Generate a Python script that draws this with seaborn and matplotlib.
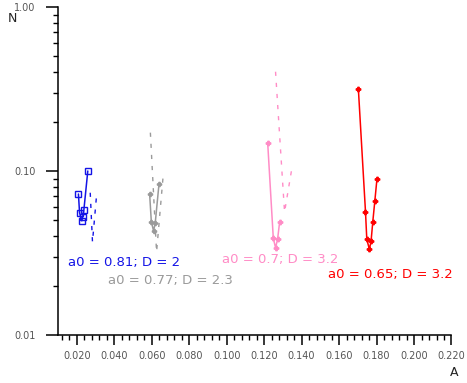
import matplotlib
matplotlib.use("Agg")
import matplotlib.pyplot as plt
import matplotlib.ticker as mticker
import seaborn as sns
import pandas as pd

# solid curves (marked points)
blue_x = [0.0209, 0.0215, 0.0227, 0.0232, 0.0238, 0.0259]
blue_y = [0.0724, 0.0557, 0.0497, 0.0526, 0.0578, 0.100]
gray_x = [0.0589, 0.0598, 0.0610, 0.0619, 0.0639]
gray_y = [0.0724, 0.0491, 0.0431, 0.0484, 0.0833]
pink_x = [0.1219, 0.1249, 0.1261, 0.1272, 0.1283]
pink_y = [0.1488, 0.0389, 0.0340, 0.0385, 0.0491]
red_x = [0.1703, 0.1741, 0.1748, 0.1762, 0.1771, 0.1780, 0.1791, 0.1802]
red_y = [0.316, 0.0565, 0.0383, 0.0333, 0.0376, 0.0491, 0.0659, 0.0890]

# dashed curves
blue_dx = [0.0272, 0.0284, 0.0307]
blue_dy = [0.0737, 0.0369, 0.0737]
gray_dx = [0.0593, 0.0626, 0.0660]
gray_dy = [0.1713, 0.0321, 0.0902]
pink_dx = [0.1261, 0.1309, 0.1350]
pink_dy = [0.403, 0.0562, 0.107]

labels = ["a0 = 0.81; D = 2", "a0 = 0.77; D = 2.3", "a0 = 0.7; D = 3.2", "a0 = 0.65; D = 3.2"]
label_x = [0.0156, 0.0365, 0.0975, 0.1541]
label_y = [0.0278, 0.0216, 0.0290, 0.0235]
colors = ["#1414e6", "#9a9a9a", "#ff8cc6", "#ff0000"]

x_ticks = [0.02, 0.04, 0.06, 0.08, 0.10, 0.12, 0.14, 0.16, 0.18, 0.20, 0.22]

sns.set_style("ticks")
fig = plt.figure(figsize=(4.67, 3.83), dpi=100)
ax = fig.add_axes([0.1242, 0.1253, 0.9668 - 0.1242, 0.9817 - 0.1253])

solid = [(blue_x, blue_y, "s", 4.0, "none"), (gray_x, gray_y, "P", 3.0, None),
         (pink_x, pink_y, "P", 3.2, None), (red_x, red_y, "P", 3.2, None)]
for i, (xs, ys, mk, ms, mfc) in enumerate(solid):
    df = pd.DataFrame({"A": xs, "N": ys})
    kw = dict(marker=mk, markersize=ms, markeredgewidth=1.0, markeredgecolor=colors[i])
    kw["markerfacecolor"] = mfc if mfc is not None else colors[i]
    sns.lineplot(data=df, x="A", y="N", sort=False, estimator=None, color=colors[i],
                 linewidth=1.1, ax=ax, **kw)

dashed = [(blue_dx, blue_dy), (gray_dx, gray_dy), (pink_dx, pink_dy)]
for i, (xs, ys) in enumerate(dashed):
    df = pd.DataFrame({"A": xs, "N": ys})
    sns.lineplot(data=df, x="A", y="N", sort=False, estimator=None, color=colors[i],
                 linewidth=1.0, linestyle=(0, (3, 5)), ax=ax)

for i, t in enumerate(labels):
    ax.text(label_x[i], label_y[i], t, color=colors[i], fontsize=9.5, va="center", ha="left")

ax.set_yscale("log")
ax.set_xlim(0.01, 0.22)
ax.set_ylim(0.01, 1.0)
ax.set_xticks(x_ticks)
ax.xaxis.set_major_formatter(mticker.FormatStrFormatter("%.3f"))
ax.xaxis.set_minor_locator(mticker.MultipleLocator(0.004))
ax.yaxis.set_major_locator(mticker.LogLocator(base=10, numticks=5))
ax.yaxis.set_minor_locator(mticker.LogLocator(base=10, subs=range(2, 10), numticks=20))
ax.yaxis.set_minor_formatter(mticker.NullFormatter())
ax.yaxis.set_major_formatter(mticker.FormatStrFormatter("%.2f"))

ax.tick_params(axis="x", which="major", length=7.2, width=1.1, color="black",
               labelsize=7, labelcolor="#555555", pad=4.2)
ax.tick_params(axis="y", which="major", length=8.6, width=1.1, color="black",
               labelsize=7, labelcolor="#555555", pad=7.5)
ax.tick_params(axis="both", which="minor", length=3.8, width=1.0, color="black")
ax.set_xlabel("")
ax.set_ylabel("")
for s in ["top", "right"]:
    ax.spines[s].set_visible(False)
for s in ["left", "bottom"]:
    ax.spines[s].set_linewidth(1.1)
    ax.spines[s].set_color("black")

fig.text(8 / 467, 1 - 18 / 383, "N", fontsize=9, color="#222222", va="center", ha="left")
fig.text(454 / 467, 1 - 373 / 383, "A", fontsize=9, color="#222222", va="center", ha="center")

fig.savefig("out.png", dpi=100)
